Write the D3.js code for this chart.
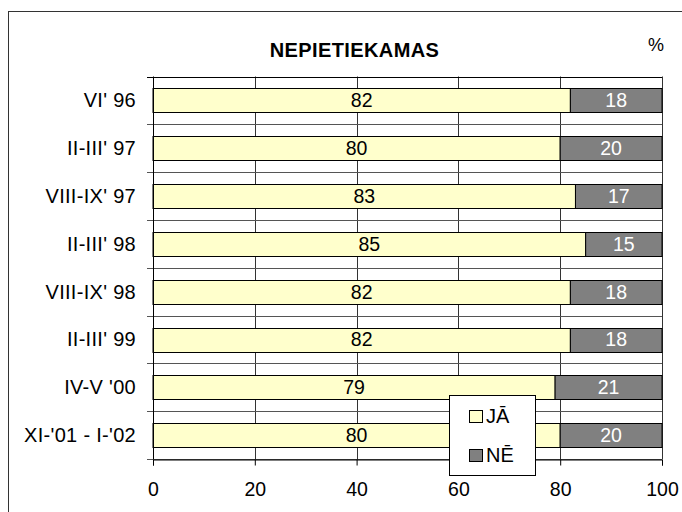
<!DOCTYPE html>
<html>
<head>
<meta charset="utf-8">
<script src="https://cdn.jsdelivr.net/npm/d3@7"></script>
<style>
  html, body { margin: 0; padding: 0; background: #fff; }
  svg { display: block; font-family: "Liberation Sans", Arial, sans-serif; }
</style>
</head>
<body>
<svg id="chart" width="682" height="512"></svg>
<script>
const categories = ["VI' 96", "II-III' 97", "VIII-IX' 97", "II-III' 98", "VIII-IX' 98", "II-III' 99", "IV-V '00", "XI-'01 - I-'02"];
const jaValues = [82, 80, 83, 85, 82, 82, 79, 80];
const neValues = [18, 20, 17, 15, 18, 18, 21, 20];
const seriesNames = ["JĀ", "NĒ"];
const xTicks = [0, 20, 40, 60, 80, 100];
const titleText = "NEPIETIEKAMAS";

(function () {
const colors = ["#FFFFCC", "#808080"];
const svg = d3.select("#chart");

// outer frame
svg.append("rect").attr("x", 8.5).attr("y", 11.5).attr("width", 680).attr("height", 510)
  .attr("fill", "#fff").attr("stroke", "#333").attr("stroke-width", 1);

const pLeft = 153, pRight = 662, pTop = 76.5, pBottom = 459;
const x = d3.scaleLinear().domain([0, 100]).range([pLeft, pRight]);
const y = d3.scaleBand().domain(categories).range([pTop, pBottom]).paddingInner(0.5).paddingOuter(0.25);
const step = y.step();

// vertical gridlines
svg.append("g").selectAll("line").data(xTicks.slice(1)).join("line")
  .attr("x1", d => Math.round(x(d)) + 0.5).attr("x2", d => Math.round(x(d)) + 0.5)
  .attr("y1", pTop).attr("y2", pBottom)
  .attr("stroke", "#333").attr("stroke-width", 1);

// horizontal boundary gridlines + category ticks
const bounds = d3.range(categories.length + 1).map(i => pTop + i * step);
svg.append("g").selectAll("line").data(bounds).join("line")
  .attr("x1", pLeft - 6).attr("x2", pRight)
  .attr("y1", d => Math.round(d) + 0.5).attr("y2", d => Math.round(d) + 0.5)
  .attr("stroke", (d, i) => i === 0 ? "#000" : "#555").attr("stroke-width", 1.2);

// bars
const rows = categories.map((c, i) => ({ c, ja: jaValues[i], ne: neValues[i] }));
const g = svg.append("g");
rows.forEach(r => {
  const y0 = Math.round(y(r.c)) + 0.5;
  const h = Math.round(y.bandwidth());
  g.append("rect").attr("x", x(0)).attr("y", y0).attr("width", x(r.ja) - x(0)).attr("height", h)
    .attr("fill", colors[0]).attr("stroke", "#000").attr("stroke-width", 1);
  g.append("rect").attr("x", x(r.ja)).attr("y", y0).attr("width", x(r.ja + r.ne) - x(r.ja)).attr("height", h)
    .attr("fill", colors[1]).attr("stroke", "#000").attr("stroke-width", 1);
  const cy = y(r.c) + y.bandwidth() / 2 + 7;
  g.append("text").attr("x", x(r.ja / 2)).attr("y", cy).attr("text-anchor", "middle")
    .attr("font-size", 19.5).attr("fill", "#000").text(r.ja);
  g.append("text").attr("x", x(r.ja + r.ne / 2)).attr("y", cy).attr("text-anchor", "middle")
    .attr("font-size", 19.5).attr("fill", "#fff").text(r.ne);
  svg.append("text").attr("x", 136).attr("y", cy).attr("text-anchor", "end")
    .attr("font-size", 20).attr("letter-spacing", 0.3).attr("fill", "#000").text(r.c);
});

// left axis line
svg.append("line").attr("x1", pLeft + 0.5).attr("x2", pLeft + 0.5).attr("y1", pTop).attr("y2", pBottom)
  .attr("stroke", "#000").attr("stroke-width", 1);

// bottom axis
const xAxis = svg.append("g").attr("transform", `translate(0,${pBottom + 0.5})`)
  .call(d3.axisBottom(x).tickValues(xTicks).tickSize(6).tickPadding(17).tickFormat(d3.format("d")));
xAxis.select(".domain").attr("stroke", "#000");
xAxis.selectAll(".tick line").attr("stroke", "#000");
xAxis.selectAll("text").attr("font-size", 19.5).attr("fill", "#000")
  .attr("font-family", '"Liberation Sans", Arial, sans-serif');

// title
svg.append("text").attr("x", 354.5).attr("y", 57).attr("text-anchor", "middle")
  .attr("font-size", 20).attr("letter-spacing", 0.4).attr("font-weight", "bold").text(titleText);
svg.append("text").attr("x", 656).attr("y", 51).attr("text-anchor", "middle")
  .attr("font-size", 18).text("%");

// legend
const lg = svg.append("g");
lg.append("rect").attr("x", 449.5).attr("y", 395.5).attr("width", 86).attr("height", 80)
  .attr("fill", "#fff").attr("stroke", "#000").attr("stroke-width", 1);
seriesNames.forEach((name, i) => {
  const sy = 410.5 + i * 39;
  lg.append("rect").attr("x", 469.5).attr("y", sy).attr("width", 13).attr("height", 12)
    .attr("fill", colors[i]).attr("stroke", "#000").attr("stroke-width", 1);
  lg.append("text").attr("x", 486).attr("y", sy + 12.5).attr("font-size", 20).text(name);
});
})();
</script>
</body>
</html>
